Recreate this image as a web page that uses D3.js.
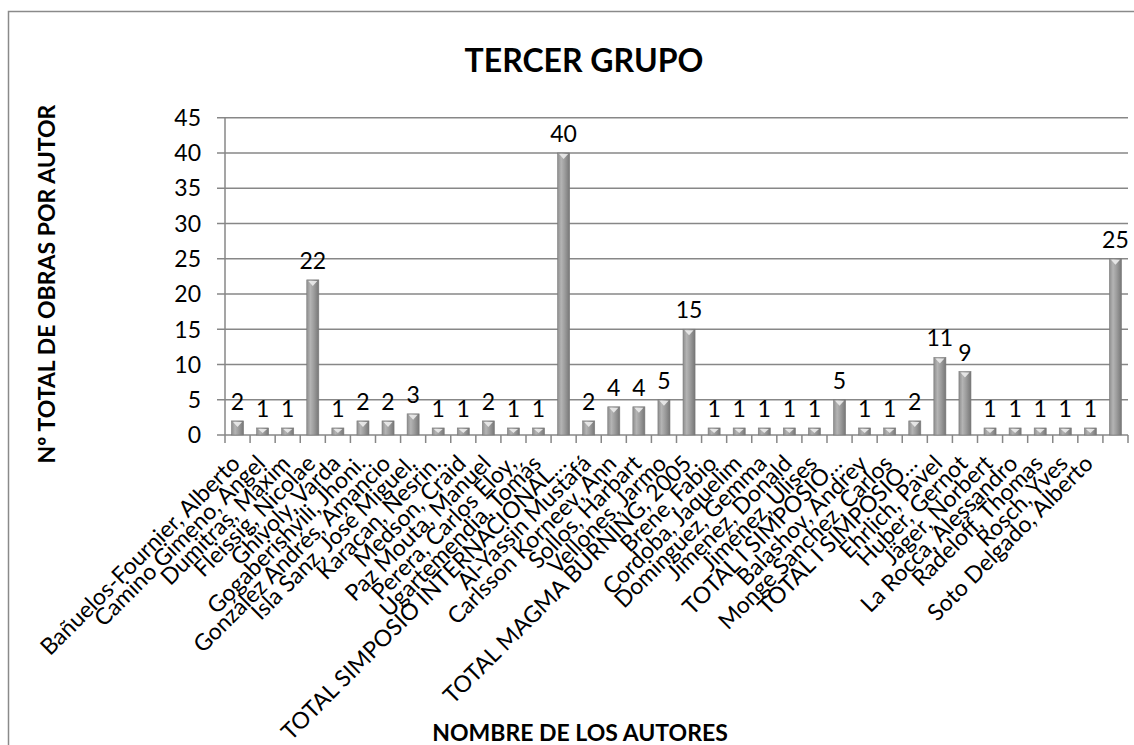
<!DOCTYPE html>
<html>
<head>
<meta charset="utf-8">
<script src="https://cdn.jsdelivr.net/npm/d3@7/dist/d3.min.js"></script>
<style>
  html, body { margin: 0; padding: 0; background: #fff; }
  svg { display: block; font-family: Lato, "Open Sans", sans-serif; }
</style>
</head>
<body>
<svg id="chart" width="1134" height="745"></svg>
<script>
// Works per author, with the subtotal of each symposium after its group
const authors = [
  "Bañuelos-Fournier, Alberto",
  "Camino Gimeno, Angel",
  "Dumitras, Maxim",
  "Fleissig, Nicolae",
  "Ghivoly, Varda",
  "Gogaberishvili, Jhoni.",
  "González Andrés, Amancio",
  "Isla Sanz, José Miguel.",
  "Karacan, Nesrin.",
  "Medson, Craid",
  "Paz Mouta, Manuel",
  "Perera, Carlos Eloy,",
  "Ugartemendia, Tomás",
  "TOTAL SIMPOSIO INTERNACIONAL…",
  "Al-Yassin Mustafá",
  "Carlsson Korneev, Ann",
  "Sollos, Harbart",
  "Vellones, Jarmo",
  "TOTAL MAGMA BURNING, 2005",
  "Brene, Fabio",
  "Cordoba, Jaquelim",
  "Dominguez, Gemma",
  "Jimenez, Donald",
  "Jiménez, Ulises",
  "TOTAL I SIMPOSIO…",
  "Balashov, Andrey",
  "Monge Sanchez, Carlos",
  "TOTAL I SIMPOSIO…",
  "Ehrlich, Pavel",
  "Huber, Gernot",
  "Jäger, Norbert",
  "La Rocca, Alessandro",
  "Radeloff, Thomas",
  "Rosch, Yves",
  "Soto Delgado, Alberto",
  ""
];
const obras = [
  2, 1, 1, 22, 1, 2, 2, 3, 1, 1, 2, 1, 1, 40,
  2, 4, 4, 5, 15,
  1, 1, 1, 1, 1, 5,
  1, 1, 2,
  11, 9, 1, 1, 1, 1, 1, 25
];
const yTicks = [0, 5, 10, 15, 20, 25, 30, 35, 40, 45];

const chartTitle = "TERCER GRUPO";
const yTitle = "Nº TOTAL DE OBRAS POR AUTOR";
const xTitle = "NOMBRE DE LOS AUTORES";

const svg = d3.select("#chart");
const plot = { left: 225, right: 1128, top: 117.7, bottom: 435 };
const gridColor = "#878787";

// Chart frame
svg.append("rect")
  .attr("x", 8.5).attr("y", 11.5)
  .attr("width", 1300).attr("height", 900)
  .attr("fill", "#fff")
  .attr("stroke", "#8a8a8a").attr("stroke-width", 1.5);

// Scales
const x = d3.scaleBand()
  .domain(d3.range(authors.length))
  .range([plot.left, plot.right])
  .paddingInner(0.52)
  .paddingOuter(0.26);
const xEdge = d3.scaleLinear()
  .domain([0, authors.length])
  .range([plot.left, plot.right]);
const y = d3.scaleLinear()
  .domain([0, 45])
  .range([plot.bottom, plot.top]);

// Horizontal gridlines with outward tick stubs
svg.append("g").selectAll("line")
  .data(yTicks)
  .join("line")
  .attr("x1", plot.left - 8).attr("x2", plot.right)
  .attr("y1", d => y(d)).attr("y2", d => y(d))
  .attr("stroke", gridColor).attr("stroke-width", 1.5);

// Vertical axis line
svg.append("line")
  .attr("x1", plot.left).attr("x2", plot.left)
  .attr("y1", y(45)).attr("y2", y(0))
  .attr("stroke", gridColor).attr("stroke-width", 1.5);

// Category boundary ticks below the axis
svg.append("g").selectAll("line")
  .data(d3.range(authors.length + 1))
  .join("line")
  .attr("x1", d => xEdge(d)).attr("x2", d => xEdge(d))
  .attr("y1", y(0)).attr("y2", y(0) + 8)
  .attr("stroke", gridColor).attr("stroke-width", 1.5);

// Y tick labels
svg.append("g").selectAll("text")
  .data(yTicks)
  .join("text")
  .attr("x", plot.left - 24)
  .attr("y", d => y(d))
  .attr("dy", "0.36em")
  .attr("text-anchor", "end")
  .attr("font-size", 23)
  .attr("fill", "#000")
  .text(d => d);

// Bar shading
const defs = svg.append("defs");
const grad = defs.append("linearGradient")
  .attr("id", "barShade")
  .attr("x1", "0%").attr("x2", "100%").attr("y1", "0%").attr("y2", "0%");
[["0%", "#8e8e8e"], ["30%", "#b4b4b4"], ["60%", "#9c9c9c"], ["100%", "#767676"]]
  .forEach(([o, c]) => grad.append("stop").attr("offset", o).attr("stop-color", c));

const bars = svg.append("g").selectAll("g")
  .data(obras.map((v, i) => ({ v, i })))
  .join("g");

bars.append("rect")
  .attr("x", d => x(d.i))
  .attr("y", d => y(d.v))
  .attr("width", x.bandwidth())
  .attr("height", d => y(0) - y(d.v))
  .attr("fill", "url(#barShade)")
  .attr("stroke", "#7a7a7a")
  .attr("stroke-width", 0.6);

// Bevel highlight on top of each bar
bars.append("path")
  .attr("d", d => {
    const x0 = x(d.i) + 1.5, x1 = x(d.i) + x.bandwidth() - 1.5;
    const top = y(d.v) + 1;
    const h = Math.min(5, (y(0) - y(d.v)) - 3);
    const cx = x(d.i) + x.bandwidth() / 2;
    return `M${x0},${top}L${x1},${top}L${cx},${top + h}Z`;
  })
  .attr("fill", "#ececec")
  .attr("opacity", 0.9);

// Value labels
svg.append("g").selectAll("text")
  .data(obras.map((v, i) => ({ v, i })))
  .join("text")
  .attr("x", d => x(d.i) + x.bandwidth() / 2)
  .attr("y", d => y(d.v) - 11)
  .attr("text-anchor", "middle")
  .attr("font-size", 23)
  .attr("fill", "#000")
  .text(d => d.v);

// Rotated author names
svg.append("g").selectAll("text")
  .data(authors.map((a, i) => ({ a, i })))
  .join("text")
  .attr("transform", d => `translate(${x(d.i) + x.bandwidth() / 2 + 4},${y(0) + 30}) rotate(-45)`)
  .attr("text-anchor", "end")
  .attr("font-size", 23)
  .attr("fill", "#000")
  .text(d => d.a);

// Titles
svg.append("text")
  .attr("x", 584).attr("y", 72)
  .attr("text-anchor", "middle")
  .attr("font-size", 32).attr("font-weight", "bold")
  .text(chartTitle);

svg.append("text")
  .attr("transform", "translate(55,284) rotate(-90)")
  .attr("text-anchor", "middle")
  .attr("font-size", 23).attr("font-weight", "bold")
  .text(yTitle);

svg.append("text")
  .attr("x", 580).attr("y", 741)
  .attr("text-anchor", "middle")
  .attr("font-size", 23).attr("font-weight", "bold")
  .text(xTitle);
</script>
</body>
</html>
